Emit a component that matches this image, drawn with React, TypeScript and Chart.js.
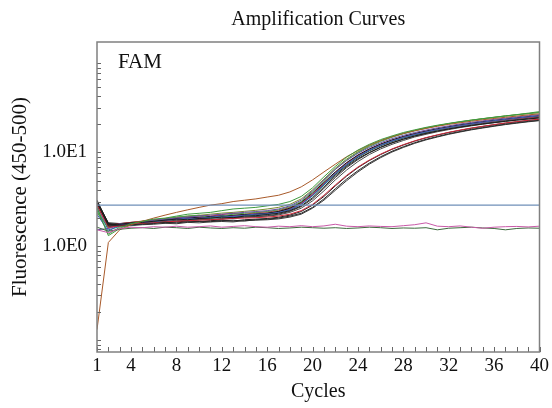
import React, { useEffect, useRef } from "react";
import { Chart, registerables } from "chart.js";

Chart.register(...registerables);

const cycles = [1, 2, 3, 4, 5, 6, 7, 8, 9, 10, 11, 12, 13, 14, 15, 16, 17, 18, 19, 20, 21, 22, 23, 24, 25, 26, 27, 28, 29, 30, 31, 32, 33, 34, 35, 36, 37, 38, 39, 40];

const xTickLabels = [1, 4, 8, 12, 16, 20, 24, 28, 32, 36, 40];
const yLabelValues = [1, 10];
const yLabelTexts = ["1.0E0", "1.0E1"];
const thresholdValue = 2.75;

const curveA = [2.6, 1.3, 1.55, 1.75, 1.85, 1.95, 2.0, 2.1, 2.2, 2.25, 2.3, 2.4, 2.5, 2.55, 2.6, 2.7, 2.8, 3.0, 3.4, 4.2, 5.5, 7.1, 8.9, 10.6, 12.2, 13.7, 15.0, 16.3, 17.4, 18.5, 19.5, 20.4, 21.3, 22.1, 22.9, 23.7, 24.5, 25.3, 26.2, 27.2];
const curveB = [0.13, 1.1, 1.5, 1.7, 1.85, 2.0, 2.15, 2.3, 2.45, 2.6, 2.75, 2.85, 3.0, 3.1, 3.2, 3.35, 3.5, 3.8, 4.3, 5.1, 6.2, 7.5, 9.0, 10.5, 12.0, 13.4, 14.7, 15.9, 17.0, 18.0, 19.0, 19.9, 20.7, 21.5, 22.3, 23.0, 23.7, 24.4, 25.1, 25.8];
const curveC = [2.9, 1.7, 1.72, 1.78, 1.8, 1.85, 1.9, 1.95, 1.92, 1.98, 2.0, 2.05, 2.02, 2.1, 2.12, 2.18, 2.25, 2.4, 2.7, 3.3, 4.3, 5.6, 7.1, 8.6, 10.0, 11.4, 12.7, 13.9, 15.0, 16.0, 16.9, 17.8, 18.6, 19.4, 20.1, 20.8, 21.5, 22.1, 22.7, 23.3];
const curveD = [3.0, 1.65, 1.68, 1.7, 1.72, 1.75, 1.8, 1.78, 1.82, 1.85, 1.83, 1.88, 1.9, 1.86, 1.92, 1.95, 2.0, 2.1, 2.25, 2.6, 3.2, 4.1, 5.2, 6.4, 7.7, 9.0, 10.3, 11.5, 12.7, 13.8, 14.8, 15.8, 16.7, 17.6, 18.4, 19.2, 20.0, 20.7, 21.4, 22.0];
const curveE = [2.8, 1.6, 1.65, 1.7, 1.75, 1.78, 1.82, 1.85, 1.88, 1.9, 1.92, 1.95, 1.98, 2.0, 2.02, 2.05, 2.1, 2.2, 2.4, 2.8, 3.5, 4.5, 5.7, 7.0, 8.3, 9.6, 10.9, 12.1, 13.3, 14.4, 15.4, 16.4, 17.3, 18.2, 19.0, 19.8, 20.6, 21.3, 22.0, 22.6];
const curveF = [1.5, 1.55, 1.75, 1.7, 1.8, 1.9, 1.95, 2.0, 2.05, 2.1, 2.15, 2.2, 2.25, 2.3, 2.35, 2.4, 2.5, 2.7, 3.1, 3.9, 5.1, 6.6, 8.2, 9.8, 11.3, 12.7, 14.0, 15.2, 16.3, 17.3, 18.3, 19.2, 20.1, 20.9, 21.7, 22.5, 23.2, 23.9, 24.6, 25.3];
const curveG = [2.2, 1.45, 1.7, 1.75, 1.8, 1.82, 1.9, 1.95, 2.0, 1.98, 2.05, 2.1, 2.08, 2.15, 2.2, 2.22, 2.3, 2.45, 2.8, 3.5, 4.6, 6.0, 7.5, 9.1, 10.6, 12.0, 13.3, 14.5, 15.6, 16.6, 17.6, 18.5, 19.4, 20.2, 21.0, 21.8, 22.5, 23.2, 23.9, 24.6];
const curveH = [2.4, 1.35, 1.6, 1.72, 1.8, 1.88, 1.95, 2.05, 2.1, 2.15, 2.0, 2.1, 2.2, 2.25, 2.3, 2.35, 2.45, 2.65, 3.0, 3.8, 5.0, 6.6, 8.3, 10.0, 11.6, 13.1, 14.5, 15.8, 17.0, 18.1, 19.2, 20.2, 21.1, 22.0, 22.8, 23.6, 24.4, 25.2, 25.9, 26.6];
const curveI = [3.1, 1.75, 1.7, 1.76, 1.82, 1.86, 1.92, 1.97, 2.0, 2.05, 2.08, 2.1, 2.15, 2.18, 2.2, 2.25, 2.35, 2.55, 2.95, 3.7, 4.8, 6.2, 7.8, 9.4, 10.9, 12.3, 13.6, 14.8, 15.9, 16.9, 17.9, 18.8, 19.7, 20.5, 21.3, 22.0, 22.7, 23.4, 24.1, 24.7];
const curveJ = [2.7, 1.62, 1.66, 1.7, 1.76, 1.8, 1.84, 1.9, 1.86, 1.92, 1.96, 1.94, 2.0, 2.04, 2.06, 2.1, 2.16, 2.3, 2.55, 3.05, 3.9, 5.1, 6.5, 8.0, 9.5, 10.9, 12.2, 13.4, 14.6, 15.6, 16.6, 17.5, 18.4, 19.2, 20.0, 20.7, 21.4, 22.1, 22.8, 23.4];
const curveK = [2.9, 1.68, 1.74, 1.8, 1.86, 1.92, 1.96, 2.02, 2.06, 2.12, 2.1, 2.18, 2.24, 2.2, 2.28, 2.32, 2.4, 2.6, 2.9, 3.6, 4.7, 6.1, 7.7, 9.3, 10.8, 12.2, 13.5, 14.7, 15.8, 16.8, 17.7, 18.6, 19.5, 20.3, 21.0, 21.7, 22.4, 23.0, 23.6, 24.2];
const curveL = [2.5, 1.5, 1.62, 1.68, 1.74, 1.78, 1.82, 1.88, 1.92, 1.96, 2.0, 2.03, 2.06, 2.1, 2.14, 2.2, 2.28, 2.45, 2.8, 3.45, 4.5, 5.9, 7.4, 9.0, 10.5, 11.9, 13.2, 14.4, 15.5, 16.5, 17.5, 18.4, 19.3, 20.1, 20.9, 21.6, 22.3, 23.0, 23.7, 24.3];
const curveM = [3.0, 1.72, 1.7, 1.74, 1.76, 1.8, 1.78, 1.82, 1.86, 1.84, 1.88, 1.9, 1.86, 1.92, 1.95, 1.98, 2.04, 2.15, 2.35, 2.75, 3.4, 4.4, 5.6, 6.9, 8.2, 9.5, 10.8, 12.0, 13.2, 14.3, 15.3, 16.3, 17.2, 18.1, 18.9, 19.7, 20.5, 21.2, 21.9, 22.5];
const curveN = [2.3, 1.58, 1.7, 1.78, 1.85, 1.9, 1.98, 2.04, 2.1, 2.14, 2.2, 2.26, 2.3, 2.36, 2.42, 2.5, 2.6, 2.8, 3.2, 4.0, 5.2, 6.8, 8.5, 10.2, 11.8, 13.3, 14.7, 16.0, 17.2, 18.3, 19.3, 20.3, 21.2, 22.1, 22.9, 23.7, 24.5, 25.2, 25.9, 26.6];
const curveO = [2.8, 1.66, 1.64, 1.68, 1.74, 1.78, 1.84, 1.86, 1.9, 1.94, 1.92, 1.98, 2.02, 2.05, 2.08, 2.12, 2.2, 2.36, 2.65, 3.2, 4.15, 5.4, 6.9, 8.4, 9.9, 11.3, 12.6, 13.8, 14.9, 15.9, 16.9, 17.8, 18.7, 19.5, 20.3, 21.0, 21.7, 22.4, 23.1, 23.7];
const curveP = [2.6, 1.55, 1.66, 1.72, 1.78, 1.84, 1.88, 1.94, 1.98, 2.02, 2.06, 2.08, 2.12, 2.16, 2.2, 2.24, 2.3, 2.5, 2.85, 3.55, 4.6, 6.0, 7.6, 9.2, 10.7, 12.1, 13.4, 14.6, 15.7, 16.7, 17.7, 18.6, 19.5, 20.3, 21.1, 21.8, 22.5, 23.2, 23.9, 24.5];
const curveQ = [3.0, 1.78, 1.75, 1.8, 1.84, 1.88, 1.94, 1.98, 2.02, 2.0, 2.06, 2.12, 2.1, 2.16, 2.22, 2.26, 2.34, 2.5, 2.85, 3.5, 4.5, 5.8, 7.3, 8.9, 10.4, 11.8, 13.1, 14.3, 15.4, 16.4, 17.4, 18.3, 19.2, 20.0, 20.8, 21.5, 22.2, 22.9, 23.5, 24.1];
const curveR = [2.9, 1.7, 1.64, 1.66, 1.7, 1.72, 1.76, 1.74, 1.8, 1.78, 1.82, 1.84, 1.82, 1.88, 1.9, 1.92, 1.96, 2.05, 2.2, 2.55, 3.1, 3.95, 5.0, 6.2, 7.5, 8.8, 10.1, 11.3, 12.5, 13.6, 14.6, 15.6, 16.5, 17.4, 18.2, 19.0, 19.8, 20.5, 21.2, 21.8];
const neg1 = [1.5, 1.4, 1.55, 1.6, 1.58, 1.62, 1.6, 1.64, 1.6, 1.62, 1.65, 1.6, 1.63, 1.66, 1.62, 1.6, 1.64, 1.62, 1.66, 1.62, 1.65, 1.72, 1.64, 1.62, 1.65, 1.63, 1.62, 1.66, 1.7, 1.78, 1.64, 1.62, 1.65, 1.6, 1.56, 1.6, 1.62, 1.63, 1.61, 1.64];
const neg2 = [1.6, 1.45, 1.52, 1.56, 1.58, 1.55, 1.6, 1.58, 1.55, 1.6, 1.57, 1.55, 1.58, 1.56, 1.6, 1.58, 1.55, 1.57, 1.6, 1.58, 1.56, 1.58, 1.55, 1.57, 1.6, 1.58, 1.55, 1.57, 1.56, 1.58, 1.5, 1.56, 1.58, 1.6, 1.57, 1.55, 1.5, 1.55, 1.57, 1.56];

const seriesList = [neg1, neg2, curveA, curveB, curveC, curveD, curveE, curveF, curveG, curveH, curveI, curveJ, curveK, curveL, curveM, curveN, curveO, curveP, curveQ, curveR];
const seriesColors = ["#c85aa8", "#3d6b3d", "#3f9a3f", "#a85a2a", "#1e1e1e", "#2a2a2a", "#d0283a", "#6a4ea2", "#3e5cb6", "#4aa04a", "#151515", "#4a4a4a", "#c83040", "#2a8a8a", "#202020", "#7a8a30", "#333333", "#b04898", "#111111", "#3a3a3a"];

const SERIF = '"Liberation Serif", "Times New Roman", serif';

const framePlugin = {
  id: "framePlugin",
  afterDatasetsDraw(chart: any) {
    const { ctx, chartArea, scales } = chart;
    const { left, right, top, bottom } = chartArea;
    const x = scales.x;
    const y = scales.y;
    ctx.save();
    ctx.strokeStyle = "#666";
    ctx.lineWidth = 1;
    ctx.beginPath();
    y.ticks.forEach((t: any) => {
      const py = Math.round(y.getPixelForValue(t.value)) + 0.5;
      if (py < top || py > bottom) return;
      ctx.moveTo(left, py);
      ctx.lineTo(left + 4, py);
    });
    x.ticks.forEach((t: any) => {
      const px = Math.round(x.getPixelForValue(t.value)) + 0.5;
      ctx.moveTo(px, bottom);
      ctx.lineTo(px, bottom - 5);
    });
    ctx.stroke();
    ctx.strokeStyle = "#808080";
    ctx.lineWidth = 1.5;
    ctx.strokeRect(left, top, right - left, bottom - top);
    ctx.fillStyle = "#111";
    ctx.font = "21px " + SERIF;
    ctx.textBaseline = "alphabetic";
    ctx.textAlign = "left";
    ctx.fillText("FAM", left + 21, top + 26);
    ctx.restore();
  },
};

export default function App() {
  const canvasRef = useRef<HTMLCanvasElement | null>(null);

  useEffect(() => {
    document.body.style.margin = "0";
    const canvas = canvasRef.current;
    if (!canvas) return;

    const datasets: any[] = seriesList.map((s, i) => ({
      data: cycles.map((c, j) => ({ x: c, y: s[j] })),
      borderColor: seriesColors[i],
      borderWidth: 1,
      pointRadius: 0,
      tension: 0,
      fill: false,
    }));
    datasets.unshift({
      data: cycles.map((c) => ({ x: c, y: thresholdValue })),
      borderColor: "#6f8fb8",
      borderWidth: 1.2,
      pointRadius: 0,
      fill: false,
    });

    const yTicks: number[] = [];
    for (let e = -2; e <= 1; e++) {
      for (let m = 1; m <= 9; m++) {
        const v = Math.round(m * Math.pow(10, e) * 1000) / 1000;
        if (v >= 0.075 && v <= 95) yTicks.push(v);
      }
    }

    const chart = new Chart(canvas, {
      type: "line",
      data: { datasets },
      plugins: [framePlugin],
      options: {
        animation: false,
        responsive: false,
        layout: { padding: { left: 0, right: 12, top: 0, bottom: 0 } },
        plugins: {
          legend: { display: false },
          tooltip: { enabled: false },
          title: {
            display: true,
            text: "Amplification Curves",
            fullSize: false,
            color: "#111",
            font: { family: SERIF, size: 20, weight: "normal" },
            padding: { top: 8, bottom: 10 },
          },
        },
        scales: {
          x: {
            type: "linear",
            min: 1,
            max: 40,
            afterBuildTicks: (scale: any) => {
              scale.ticks = cycles.map((c) => ({ value: c }));
            },
            afterFit: (scale: any) => {
              scale.height = 56;
            },
            grid: { display: false, drawTicks: false },
            border: { display: false },
            ticks: {
              autoSkip: false,
              maxRotation: 0,
              padding: 3,
              color: "#111",
              font: { family: SERIF, size: 19 },
              callback: (v: any) => (xTickLabels.includes(Number(v)) ? String(v) : ""),
            },
            title: {
              display: true,
              text: "Cycles",
              color: "#111",
              font: { family: SERIF, size: 20 },
              padding: { top: 0, bottom: 4 },
            },
          },
          y: {
            type: "logarithmic",
            min: 0.075,
            max: 150,
            afterBuildTicks: (scale: any) => {
              scale.ticks = yTicks.map((v) => ({ value: v }));
            },
            afterFit: (scale: any) => {
              scale.width = 97;
            },
            grid: { display: false, drawTicks: false },
            border: { display: false },
            ticks: {
              autoSkip: false,
              padding: 10,
              color: "#111",
              font: { family: SERIF, size: 19 },
              callback: (v: any) => {
                const idx = yLabelValues.indexOf(Number(v));
                return idx >= 0 ? yLabelTexts[idx] : "";
              },
            },
            title: {
              display: true,
              text: "Fluorescence (450-500)",
              color: "#111",
              font: { family: SERIF, size: 21 },
              padding: { top: 8, bottom: 0 },
            },
          },
        },
      },
    } as any);

    return () => chart.destroy();
  }, []);

  return (
    <div style={{ width: 552, height: 408 }}>
      <canvas ref={canvasRef} width={552} height={408} style={{ width: 552, height: 408, display: "block" }} />
    </div>
  );
}
